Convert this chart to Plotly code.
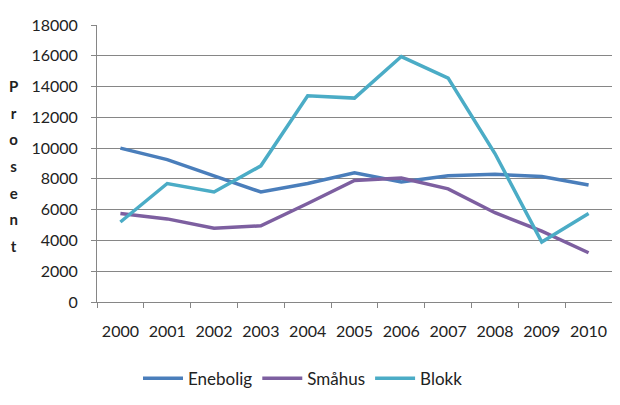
import plotly.graph_objects as go

years = ["2000", "2001", "2002", "2003", "2004", "2005", "2006", "2007", "2008", "2009", "2010"]
enebolig = [10000, 9250, 8200, 7150, 7700, 8400, 7800, 8200, 8300, 8150, 7600]
smahus = [5750, 5400, 4800, 4950, 6400, 7900, 8050, 7350, 5800, 4600, 3200]
blokk = [5200, 7700, 7150, 8850, 13400, 13250, 15950, 14550, 9650, 3900, 5750]
y_ticks = [0, 2000, 4000, 6000, 8000, 10000, 12000, 14000, 16000, 18000]
y_labels = [str(v) for v in y_ticks]

series = [("Enebolig", enebolig, "#4A7EBB"), ("Småhus", smahus, "#7D5FA0"), ("Blokk", blokk, "#4BACC6")]

FONT = "Lato, 'Open Sans', sans-serif"
fig = go.Figure()
for name, vals, col in series:
    fig.add_trace(go.Scatter(x=years, y=vals, name=name, mode="lines",
                             line=dict(color=col, width=3.5)))

# page body has an 8px default margin, so the figure is 8px smaller than the window
fig.update_layout(
    width=612, height=397,
    margin=dict(l=89, r=8, t=17, b=103, autoexpand=False),
    paper_bgcolor="white", plot_bgcolor="white",
    font=dict(family=FONT, size=16, color="#222222"),
    showlegend=True,
    legend=dict(orientation="h", x=0.4, xanchor="center", y=-0.277, yanchor="middle",
                font=dict(size=17, family=FONT, color="#222222"), itemwidth=40, tracegroupgap=0),
    xaxis=dict(type="category", range=[-0.5, 10.5], showgrid=False, showline=True,
               linecolor="#868686", linewidth=1,
               ticks="outside", ticklen=5, tickcolor="#868686", tickson="boundaries",
               tickfont=dict(size=16), ticklabelstandoff=15),
    yaxis=dict(range=[0, 18000], tickvals=y_ticks, ticktext=y_labels, showgrid=True,
               gridcolor="#868686", gridwidth=1,
               showline=True, linecolor="#868686", linewidth=1, ticks="outside", ticklen=5,
               tickcolor="#868686", tickfont=dict(size=16), zeroline=False, ticklabelstandoff=10),
)

title_letters = list("Prosent")
fig.add_annotation(
    text="<br>".join(f"<span style='font-size:15px'><b>{c}</b></span>" for c in title_letters),
    xref="paper", yref="paper", x=-0.163, y=0.49, xanchor="center", yanchor="middle",
    showarrow=False, font=dict(size=20.5, family=FONT, color="#222222"), align="center")

fig.write_html("out.html")
